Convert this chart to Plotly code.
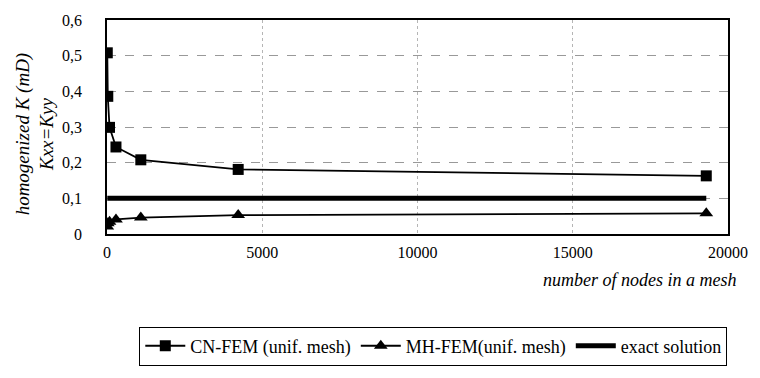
import plotly.graph_objects as go

# Data
cn_nodes = [9, 25, 81, 289, 1089, 4225, 19300]
cn_k = [0.508, 0.386, 0.299, 0.244, 0.208, 0.181, 0.163]

mh_nodes = [9, 25, 81, 289, 1089, 4225, 19300]
mh_k = [0.021, 0.030, 0.034, 0.041, 0.046, 0.053, 0.058]

exact_nodes = [9, 19300]
exact_k = [0.1, 0.1]

x_ticks = [0, 5000, 10000, 15000, 20000]
x_tick_labels = [str(v) for v in x_ticks]

FONT = "'Liberation Serif', 'DejaVu Serif', serif"

fig = go.Figure()
fig.add_trace(go.Scatter(
    x=cn_nodes, y=cn_k, mode="lines+markers", name="CN-FEM (unif. mesh)",
    line=dict(color="black", width=1.8),
    marker=dict(symbol="square", size=11, color="black"),
))
fig.add_trace(go.Scatter(
    x=mh_nodes, y=mh_k, mode="lines+markers", name="MH-FEM(unif. mesh)",
    line=dict(color="black", width=1.8),
    marker=dict(symbol="triangle-up", size=12, color="black"),
))
fig.add_trace(go.Scatter(
    x=exact_nodes, y=exact_k, mode="lines", name="exact solution",
    line=dict(color="black", width=5),
))

fig.update_layout(
    width=760, height=378,
    margin=dict(l=107, r=24, t=16, b=140),
    paper_bgcolor="white", plot_bgcolor="white",
    separators=",.",
    font=dict(family=FONT, size=16, color="black"),
    showlegend=True,
    legend=dict(
        orientation="h", x=0.052, y=-(334 - 238) / 222, xanchor="left", yanchor="top",
        bordercolor="black", borderwidth=1, bgcolor="white",
        font=dict(family=FONT, size=18, color="black"),
        itemwidth=40,
    ),
)
fig.update_xaxes(
    range=[0, 20000], tickvals=x_ticks, ticktext=x_tick_labels,
    showline=True, linecolor="black", linewidth=1.5, mirror=True,
    showgrid=True, gridcolor="#b5b5b5", griddash="dot", gridwidth=1,
    ticks="", zeroline=False, ticklabelstandoff=3,
    tickfont=dict(family=FONT, size=16, color="black"),
)
fig.update_yaxes(
    range=[0, 0.6], dtick=0.1,
    showline=True, linecolor="black", linewidth=1.5, mirror=True,
    showgrid=True, gridcolor="#999999", griddash="dash", gridwidth=1,
    ticks="", zeroline=False, ticklabelstandoff=20,
    tickfont=dict(family=FONT, size=16, color="black"),
)

fig.add_annotation(
    text="<i>homogenized K (mD)</i><br><i>Kxx=Kyy</i>",
    xref="paper", yref="paper", x=-(107 - 34) / 629, y=0.47,
    xanchor="center", yanchor="middle", textangle=-90, showarrow=False,
    font=dict(family=FONT, size=19, color="black"),
)
fig.add_annotation(
    text="<i>number of nodes in a mesh</i>",
    xref="paper", yref="paper", x=1 + 10 / 629, y=-(286 - 238) / 222,
    xanchor="right", yanchor="middle", showarrow=False,
    font=dict(family=FONT, size=18, color="black"),
)

fig.write_html("out.html")
